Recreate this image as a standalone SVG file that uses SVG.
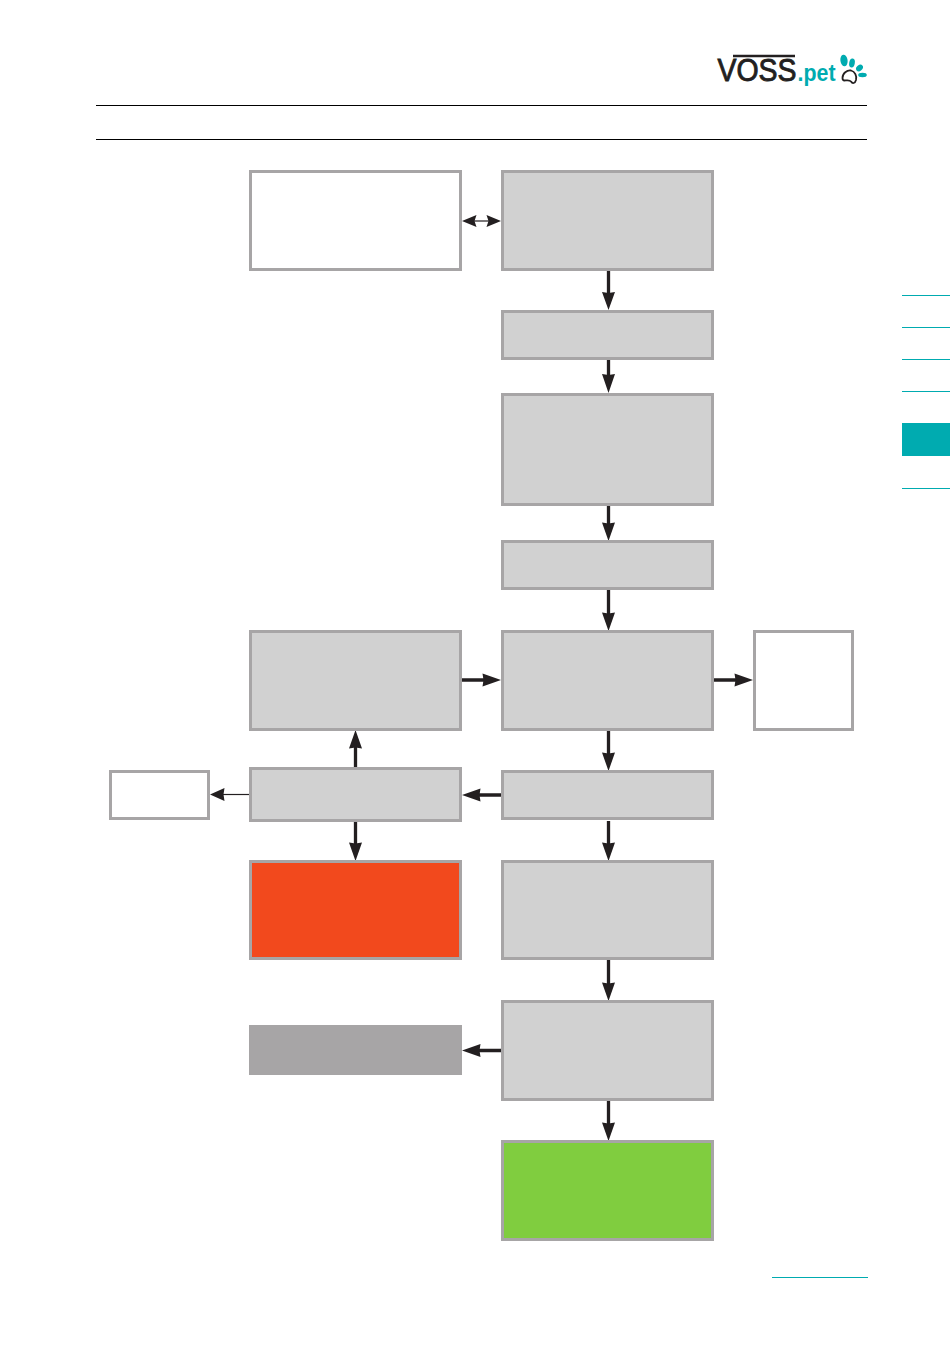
<svg xmlns="http://www.w3.org/2000/svg" width="950" height="1348" viewBox="0 0 950 1348">
<style>
.b{stroke:#a7a5a6;stroke-width:3;fill:#d1d1d1}
.w{fill:#fff}
.r{fill:#f2491d}
.g{fill:#80cd3f}
.t{stroke:#231f20;stroke-width:3.300;fill:none}
.n{stroke:#231f20;stroke-width:1.200;fill:none}
.h{fill:#231f20}
.k{stroke:#000;stroke-width:1;fill:none}
.tab{fill:#00abb0}
</style>
<rect width="950" height="1348" fill="#fff"/>
<g id="header">
<path class="k" d="M96 105.500H867M96 139.500H867"/>
<path d="M733 56H795" stroke="#231f20" stroke-width="2.400" fill="none"/>
<text transform="translate(717.500 81) scale(1 1.130)" font-family="Liberation Sans, Arial, sans-serif" font-size="28.500" fill="#231f20" stroke="#231f20" stroke-width="0.800" textLength="79" lengthAdjust="spacingAndGlyphs">VOSS</text>
<text transform="translate(797.500 81) scale(1 1.150)" font-family="Liberation Sans, Arial, sans-serif" font-size="21.500" font-weight="bold" fill="#00abb0" textLength="38" lengthAdjust="spacingAndGlyphs">.pet</text>
<g fill="#00abb0">
<ellipse cx="844" cy="60.500" rx="3.600" ry="5.800" transform="rotate(-8 844 60.500)"/>
<ellipse cx="852" cy="63" rx="2.800" ry="4.500" transform="rotate(10 852 63)"/>
<ellipse cx="859.500" cy="68" rx="3.800" ry="2.800" transform="rotate(-40 859.500 68)"/>
<ellipse cx="862.500" cy="75" rx="4.300" ry="2.200"/>
</g>
<path d="M842.500 78C842.500 73 847 70 851 70.500C855 71.500 857 76 856 80C855 83.500 852.500 84 851 81.500C849.500 79.500 846 80.500 844.500 80.500C843 80.500 842.500 79.500 842.500 78Z" fill="none" stroke="#231f20" stroke-width="1.800"/>
</g>
<g id="side-tabs">
<path d="M902 295.500H950M902 327.500H950M902 359.500H950M902 391.500H950M902 488.500H950" stroke="#00abb0" stroke-width="1.200" fill="none"/>
<rect class="tab" x="902" y="423" width="48" height="33"/>
<path d="M772 1277.500H868" stroke="#00abb0" stroke-width="1" fill="none"/>
</g>
<g id="connectors">
<path class="n" d="M472 221H490"/>
<path class="h" d="M462 221L476.500 215L474.500 221L476.500 227ZM501 221L486.500 215L488.500 221L486.500 227Z"/>
<path class="t" d="M608.500 271V294M608.500 360V376M608.500 506V524M608.500 590V614M608.500 731V754M608.500 821V844M608.500 960V984M608.500 1101V1124"/>
<path class="h" d="M602 292L608.500 293L615 292L608.500 310ZM602 374L608.500 375L615 374L608.500 393ZM602 522.500L608.500 523.500L615 522.500L608.500 541ZM602 612.500L608.500 613.500L615 612.500L608.500 631ZM602 752.500L608.500 753.500L615 752.500L608.500 771ZM602 842.500L608.500 843.500L615 842.500L608.500 861ZM602 982.500L608.500 983.500L615 982.500L608.500 1001ZM602 1122.500L608.500 1123.500L615 1122.500L608.500 1141Z"/>
<path class="t" d="M462 680H485M714 680H737M355.500 767V747M355.500 822V844M502 795H479M502 1050.500H479"/>
<path class="h" d="M482.500 673.500L483.500 680L482.500 686.500L501 680ZM734.500 673.500L735.500 680L734.500 686.500L753 680ZM349 748.500L355.500 747.500L362 748.500L355.500 730ZM349 842.500L355.500 843.500L362 842.500L355.500 861ZM480.500 788.500L479.500 795L480.500 801.500L462 795ZM480.500 1044L479.500 1050.500L480.500 1057L462 1050.500Z"/>
<path class="n" d="M249 794.500H222"/>
<path class="h" d="M224.500 788L223.500 794.500L224.500 801L210 794.500Z"/>
</g>
<g id="n1"><rect class="b w" x="250.500" y="171.500" width="210" height="98"/></g>
<g id="n2"><rect class="b" x="502.500" y="171.500" width="210" height="98"/></g>
<g id="n3"><rect class="b" x="502.500" y="311.500" width="210" height="47"/></g>
<g id="n4"><rect class="b" x="502.500" y="394.500" width="210" height="110"/></g>
<g id="n5"><rect class="b" x="502.500" y="541.500" width="210" height="47"/></g>
<g id="n6"><rect class="b" x="502.500" y="631.500" width="210" height="98"/></g>
<g id="n7"><rect class="b" x="250.500" y="631.500" width="210" height="98"/></g>
<g id="n8"><rect class="b w" x="754.500" y="631.500" width="98" height="98"/></g>
<g id="n9"><rect class="b" x="502.500" y="771.500" width="210" height="47"/></g>
<g id="n10"><rect class="b" x="250.500" y="768.500" width="210" height="52"/></g>
<g id="n11"><rect class="b w" x="110.500" y="771.500" width="98" height="47"/></g>
<g id="n12"><rect class="b r" x="250.500" y="861.500" width="210" height="97"/></g>
<g id="n13"><rect class="b" x="502.500" y="861.500" width="210" height="97"/></g>
<g id="n14"><rect class="b" x="502.500" y="1001.500" width="210" height="98"/></g>
<g id="n15"><rect x="249" y="1025" width="213" height="50" fill="#a7a5a6"/></g>
<g id="n16"><rect class="b g" x="502.500" y="1141.500" width="210" height="98"/></g>
</svg>
